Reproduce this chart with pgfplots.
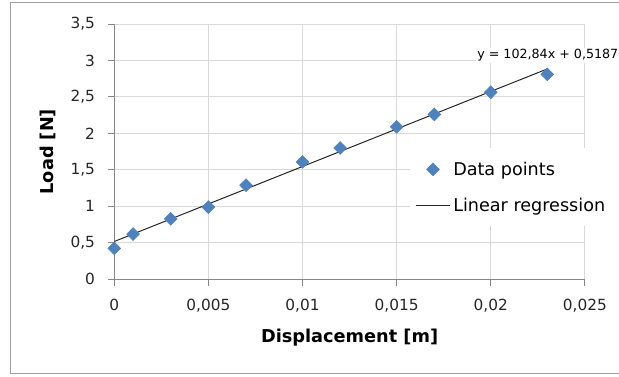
\documentclass[border=0pt]{standalone}
\usepackage{pgfplots}
\pgfplotsset{compat=1.18}
\usepackage{fontspec}
\setmainfont{DejaVu Sans}
\definecolor{ptblue}{HTML}{4F81BD}
\definecolor{gridgray}{HTML}{D9D9D9}
\definecolor{axgray}{HTML}{868686}
\begin{document}
\begin{tikzpicture}
\useasboundingbox (0,0) rectangle (464.25pt,282pt);
\draw[color=axgray!80, line width=0.75pt] (480pt,279.75pt) -- (7.5pt,279.75pt) -- (7.5pt,2.25pt) -- (480pt,2.25pt);
\begin{axis}[
  at={(85.7pt,72.5pt)}, anchor=south west,
  scale only axis, width=353pt, height=191.5pt,
  xmin=0, xmax=0.025, ymin=0, ymax=3.5,
  xtick={0,0.005,0.01,0.015,0.02,0.025},
  ytick={0,0.5,1,1.5,2,2.5,3,3.5},
  scaled x ticks=false,
  axis x line*=bottom, axis y line*=left,
  axis line style={color=axgray, line width=0.75pt, -},
  tick style={color=axgray, line width=0.75pt},
  tick align=outside, major tick length=5pt,
  grid=major, major grid style={color=gridgray, line width=0.75pt},
  clip=false,
  /pgf/number format/assume math mode=true,
  xticklabel style={/pgf/number format/.cd, fixed, precision=3, use comma, 1000 sep={}, /tikz/.cd, yshift=-6pt},
  yticklabel style={/pgf/number format/.cd, fixed, precision=1, use comma, 1000 sep={}, /tikz/.cd, xshift=-6pt},
  ticklabel style={font=\fontsize{11.5}{13}\selectfont, color=black!85},
  xlabel={Displacement [m]}, ylabel={Load [N]},
  label style={font=\fontsize{13.3}{15}\selectfont\bfseries},
  xlabel style={at={(axis description cs:0.5,-0.23)}, anchor=center},
  ylabel style={at={(axis description cs:-0.14,0.5)}, anchor=center},
  legend image code/.code={\draw[#1,mark repeat=2,mark phase=2] plot coordinates {(0cm,0cm)(0.45cm,0cm)(0.9cm,0cm)};},
  legend cell align=left,
  legend style={at={(axis description cs:0.628,0.514)}, anchor=north west, draw=none, fill=white,
    font=\fontsize{13.2}{15}\selectfont, row sep=11.5pt, inner xsep=4pt, inner ysep=8pt,
    nodes={inner xsep=2pt}},
]
\addplot[only marks, mark=square*, mark size=3.4pt, color=ptblue, mark options={rotate=45, draw=ptblue, fill=ptblue}]
  coordinates {
  (0,0.425) (0.001,0.62) (0.003,0.83) (0.005,0.99) (0.007,1.29)
  (0.010,1.61) (0.012,1.80) (0.015,2.09) (0.017,2.26) (0.020,2.565) (0.023,2.81)
  };
\addlegendentry{Data points}
\addplot[color=black!85, line width=0.75pt, mark=none]
  coordinates {(0,0.5187) (0.023,2.88402)};
\addlegendentry{Linear regression}
\node[anchor=west, fill=white, inner sep=1pt, font=\fontsize{9.5}{11}\selectfont] at (axis cs:0.0192,3.07) {y = 102,84x + 0,5187};
\end{axis}
\end{tikzpicture}
\end{document}
